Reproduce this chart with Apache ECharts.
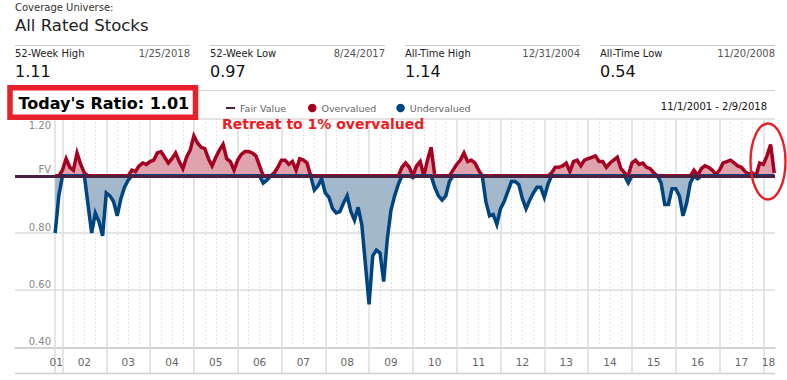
<!DOCTYPE html>
<html>
<head>
<meta charset="utf-8">
<script src="https://cdn.jsdelivr.net/npm/echarts@6/dist/echarts.min.js"></script>
<style>
html,body{margin:0;padding:0;background:#fff;}
#c{width:787px;height:380px;}
</style>
</head>
<body>
<div id="c"></div>
<script>
// ---------- data ----------
// monthly price / fair value ratio, first value = Nov 2001 (month offset -2 from Jan 2002)
const firstMonthOffset = -2;
const ratio = [
  0.80, 0.93,
  1.02, 1.06, 1.03, 1.02, 1.08, 1.04, 1.01, 0.90, 0.80, 0.87, 0.84, 0.79,
  0.94, 0.93, 0.91, 0.86, 0.92, 0.96, 0.985, 1.02, 1.015, 1.035, 1.045, 1.04,
  1.05, 1.055, 1.08, 1.085, 1.065, 1.045, 1.06, 1.08, 1.05, 1.025, 1.065, 1.09,
  1.14, 1.115, 1.10, 1.095, 1.06, 1.035, 1.065, 1.09, 1.11, 1.06, 1.05, 1.02,
  1.055, 1.075, 1.085, 1.085, 1.08, 1.07, 1.035, 0.975, 0.985, 1.0, 1.01, 1.03,
  1.055, 1.055, 1.04, 1.05, 1.02, 1.06, 1.055, 1.045, 1.0, 0.95, 0.965, 0.99,
  0.94, 0.925, 0.885, 0.87, 0.875, 0.905, 0.93, 0.875, 0.845, 0.89, 0.83, 0.69,
  0.55, 0.72, 0.74, 0.73, 0.63, 0.78, 0.88, 0.93, 0.97, 1.03, 1.045, 1.03,
  0.995, 1.035, 1.05, 1.0, 1.055, 1.10, 0.96, 0.93, 0.915, 0.93, 0.98, 1.02,
  1.04, 1.055, 1.08, 1.05, 1.055, 1.045, 1.02, 1.0, 0.91, 0.86, 0.865, 0.83,
  0.885, 0.91, 0.945, 0.98, 0.98, 0.97, 0.92, 0.885, 0.915, 0.94, 0.96, 0.96,
  0.925, 0.97, 1.01, 1.03, 1.03, 1.035, 1.045, 1.015, 1.05, 1.055, 1.035, 1.055,
  1.06, 1.065, 1.07, 1.05, 1.05, 1.03, 1.045, 1.055, 1.065, 1.025, 1.01, 0.975,
  1.045, 1.055, 1.04, 1.045, 1.03, 1.025, 1.01, 1.0, 0.975, 0.90, 0.90, 0.955,
  0.955, 0.93, 0.86, 0.905, 0.975, 1.02, 0.99, 1.025, 1.035, 1.03, 1.02, 1.005,
  1.02, 1.045, 1.05, 1.055, 1.045, 1.035, 1.03, 1.015, 1.005, 1.01, 1.0, 1.045,
  1.04, 1.07, 1.11, 1.01
];
const fairValue = 1.0;
const yearLabels = ['01','02','03','04','05','06','07','08','09','10','11','12','13','14','15','16','17','18'];
const yTickLabels = {'0.40':'0.40','0.60':'0.60','0.80':'0.80','1.00':'FV','1.20':'1.20'};
const statLabels = ['52-Week High','52-Week Low','All-Time High','All-Time Low'];
const statDates = ['1/25/2018','8/24/2017','12/31/2004','11/20/2008'];
const statValues = ['1.11','0.97','1.14','0.54'];
const universeLabel = 'Coverage Universe:';
const universeName = 'All Rated Stocks';
const todayRatio = "Today's Ratio: 1.01";
const annotation = 'Retreat to 1% overvalued';
const dateRange = '11/1/2001 - 2/9/2018';

// ---------- derived ----------
const overData = ratio.map((v, i) => [firstMonthOffset + i, Math.max(v, fairValue)]);
const underData = ratio.map((v, i) => [firstMonthOffset + i, Math.min(v, fairValue)]);
const yearTicks = [firstMonthOffset];
for (let k = 0; k <= 16; k++) yearTicks.push(12 * k);
const quarterTicks = [];
for (let k = 0; k < 16; k++) { quarterTicks.push(12 * k + 3, 12 * k + 6, 12 * k + 9); }
const labelPos = [-1.7];
for (let k = 0; k < 16; k++) labelPos.push(12 * k + 6);
labelPos.push(193.4);

const FONT = "'DejaVu Sans', Verdana, sans-serif";
const RED = '#a50021', PINK = '#dfa3ad', BLUE = '#00457f', LBLUE = '#a3b9cb', FVC = '#4b2143';

const chart = echarts.init(document.getElementById('c'), null, {renderer: 'svg'});

const graphics = [];
function txt(x, y, s, size, color, align, weight) {
  graphics.push({type: 'text', x: x, y: y, z: 20, silent: true,
    style: {text: s, fontSize: size, fontFamily: FONT, fontWeight: weight || 'normal', fill: color,
            align: align || 'left', verticalAlign: 'middle'}});
}
function hline(x1, x2, y, color, w) {
  graphics.push({type: 'line', z: 5, silent: true, shape: {x1: x1, y1: y, x2: x2, y2: y},
    style: {stroke: color, lineWidth: w || 1}});
}
txt(15, 7, universeLabel, 10, '#333');
txt(15, 25, universeName, 16.5, '#222');
for (let i = 0; i < 4; i++) {
  const x0 = 15 + 195 * i;
  hline(x0, x0 + 175, 45.5, '#c8c8c8', 1);
  txt(x0, 53.5, statLabels[i], 10, '#222');
  txt(x0 + 175, 53.5, statDates[i], 10, '#555', 'right');
  txt(x0, 71, statValues[i], 16, '#111');
}
hline(15, 775, 90.5, '#d0d0d0', 1);
hline(15, 775, 373.5, '#cfcfcf', 1.5);
graphics.push({type: 'rect', z: 15, silent: true, shape: {x: 10, y: 87.8, width: 185.5, height: 29.5},
  style: {fill: '#fff', stroke: '#e8202a', lineWidth: 5.5}});
txt(18.5, 103.5, todayRatio, 16, '#000', 'left', 'bold');
txt(222, 123.5, annotation, 14, '#ed1c24', 'left', 'bold');
txt(767, 106.5, dateRange, 10, '#111', 'right');
graphics.push({type: 'ellipse', z: 20, silent: true, shape: {cx: 768, cy: 161.5, rx: 17.5, ry: 38},
  style: {fill: 'none', stroke: '#e8202a', lineWidth: 2.4}});

const option = {
  animation: false,
  backgroundColor: '#fff',
  grid: {left: 15, right: 12, top: 118.7, bottom: 32.7, containLabel: false},
  legend: [
    {data: ['Fair Value'], left: 221, top: 98, icon: 'rect', itemWidth: 9, itemHeight: 2, itemGap: 5,
     selectedMode: false, textStyle: {color: '#666', fontSize: 9.5, fontFamily: FONT}},
    {data: ['Overvalued', 'Undervalued'], left: 303, top: 98, icon: 'circle', itemWidth: 8.5, itemHeight: 8.5,
     itemGap: 20, selectedMode: false, textStyle: {color: '#666', fontSize: 9.5, fontFamily: FONT}}
  ],
  xAxis: [
    {type: 'value', min: -13, max: 195.2, position: 'bottom',
     axisLine: {show: true, lineStyle: {color: '#cccccc', width: 1.5}},
     axisTick: {show: true, customValues: yearTicks, length: 26, lineStyle: {color: '#dcdcdc', width: 1.5}},
     splitLine: {show: true, lineStyle: {color: '#dcdcdc', width: 1.5}},
     axisLabel: {show: true, customValues: labelPos, margin: 9, color: '#666', fontSize: 10.5, fontFamily: FONT,
       formatter: function (v) {
         let best = 0, bd = 1e9;
         labelPos.forEach((p, i) => { const d = Math.abs(p - v); if (d < bd) { bd = d; best = i; } });
         return yearLabels[best];
       }}},
    {type: 'value', min: -13, max: 195.2, position: 'top',
     axisLine: {show: false}, axisLabel: {show: false},
     axisTick: {show: false, customValues: quarterTicks},
     splitLine: {show: true, lineStyle: {color: '#cfcfcf', width: 1, type: [1, 3]}}}
  ],
  yAxis: {type: 'value', min: 0.4, max: 1.2, interval: 0.2,
    axisLine: {show: false}, axisTick: {show: false},
    splitLine: {show: true, lineStyle: {color: '#dcdcdc', width: 1.5}},
    axisLabel: {inside: true, align: 'right', margin: 36, color: '#888', fontSize: 10, fontFamily: FONT,
      formatter: function (v) {
        const s = yTickLabels[v.toFixed(2)] || v.toFixed(2);
        return (v > 1.19 ? '{t|' : '{b|') + s + '}';
      },
      rich: {t: {padding: [14, 0, 0, 0], color: '#888', fontSize: 10, fontFamily: FONT},
             b: {padding: [0, 0, 12, 0], color: '#888', fontSize: 10, fontFamily: FONT}}}},
  series: [
    {name: 'Overvalued', type: 'line', data: overData, symbol: 'none', z: 3, xAxisIndex: 0,
     itemStyle: {color: RED}, lineStyle: {color: RED, width: 3.5, join: 'miter', miterLimit: 4},
     areaStyle: {color: PINK, opacity: 1, origin: fairValue}},
    {name: 'Undervalued', type: 'line', data: underData, symbol: 'none', z: 3, xAxisIndex: 0,
     itemStyle: {color: BLUE}, lineStyle: {color: BLUE, width: 3.5, join: 'miter', miterLimit: 4},
     areaStyle: {color: LBLUE, opacity: 1, origin: fairValue}},
    {name: 'Fair Value', type: 'line', data: [], symbol: 'none', z: 4, xAxisIndex: 0,
     itemStyle: {color: FVC}, lineStyle: {color: FVC, width: 3},
     markLine: {silent: true, symbol: 'none', label: {show: false}, z: 4,
       lineStyle: {color: FVC, width: 3, type: 'solid'}, data: [{yAxis: fairValue}]}}
  ],
  graphic: graphics
};
chart.setOption(option);
</script>
</body>
</html>
